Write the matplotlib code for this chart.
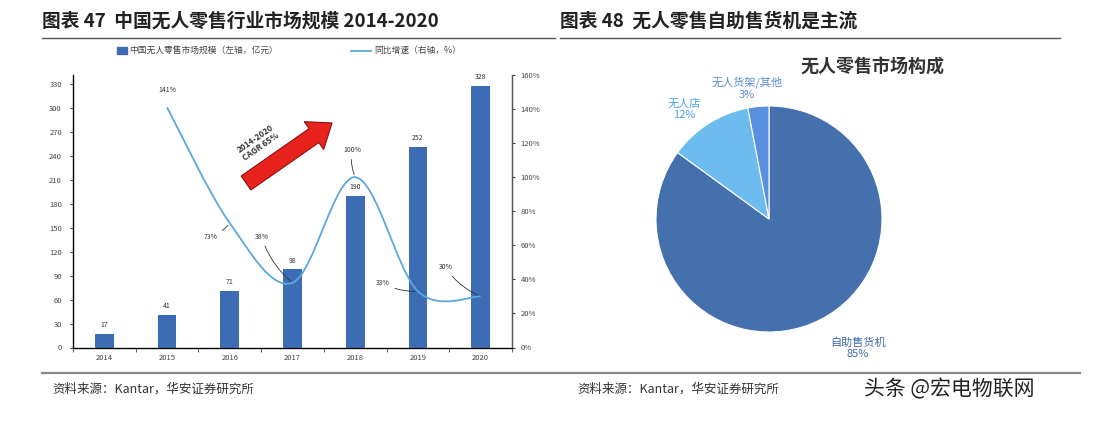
import numpy as np
import matplotlib
matplotlib.use("Agg")
import matplotlib.pyplot as plt
from matplotlib.path import Path
from matplotlib.patches import PathPatch, FancyArrow
from matplotlib.transforms import IdentityTransform
from matplotlib.lines import Line2D

plt.rcParams['font.family'] = ['Noto Sans CJK SC', 'DejaVu Sans']

# ---- data ----
years = ['2014', '2015', '2016', '2017', '2018', '2019', '2020']
market_size = [17, 41, 71, 98, 190, 252, 328]          # 亿元
growth_years = years[1:]
growth = [141, 73, 38, 100, 33, 30]                      # %
size_ticks = list(range(0, 331, 30))
growth_ticks = list(range(0, 161, 20))

pie_labels = ['自助售货机', '无人店', '无人货架/其他']
pie_values = [85, 12, 3]
pie_colors = ['#4470ad', '#6cbcf0', '#5a8ede']

W, H = 1106, 424
fig = plt.figure(figsize=(W / 100, H / 100), dpi=100)
fig.patch.set_facecolor('white')


def fx(x):
    return x / W


def fy(y):
    return 1 - y / H


# ---- headers / footers ----
fig.text(fx(42), fy(21), '图表 47  中国无人零售行业市场规模 2014-2020', fontsize=13.5,
         fontweight='bold', color='#222222', va='center')
fig.text(fx(560), fy(21), '图表 48  无人零售自助售货机是主流', fontsize=13.5,
         fontweight='bold', color='#222222', va='center')
fig.add_artist(Line2D([fx(42), fx(555)], [fy(38), fy(38)], color='#555555', lw=1.0))
fig.add_artist(Line2D([fx(560), fx(1060)], [fy(38), fy(38)], color='#555555', lw=1.0))
fig.add_artist(Line2D([fx(42), fx(1080)], [fy(373), fy(373)], color='#888888', lw=1.6))
fig.text(fx(52), fy(389), '资料来源：Kantar，华安证券研究所', fontsize=9, color='#333333', va='center')
fig.text(fx(577), fy(389), '资料来源：Kantar，华安证券研究所', fontsize=9, color='#333333', va='center')
fig.text(fx(864), fy(389), '头条 @宏电物联网', fontsize=15, color='#222222', va='center')

# ---- left chart: bars + growth line ----
ax = fig.add_axes([fx(73), fy(347.5), fx(512) - fx(73), fy(75) - fy(347.5)])
x = np.arange(len(years))
bar_color = '#3b6cb4'
ax.bar(x, market_size, width=0.3, color=bar_color, zorder=2)
ax.set_xlim(-0.5, len(years) - 0.5)
ax.set_ylim(0, 330 * 272.5 / 263.2)
ax.set_yticks(size_ticks)
ax.set_yticklabels([str(t) for t in size_ticks])
ax.set_xticks(x)
ax.set_xticklabels(years)
ax.set_xticks(np.arange(-0.5, len(years), 1), minor=True)
ax.tick_params(axis='x', which='major', length=0, labelsize=5.5, colors='#444444', pad=5)
ax.tick_params(axis='x', which='minor', length=3, color='#444444')
ax.tick_params(axis='y', length=2, labelsize=5.5, colors='#444444', pad=6)
ax.spines['top'].set_visible(False)
for s in ['left', 'bottom', 'right']:
    ax.spines[s].set_color('#555566')
    ax.spines[s].set_linewidth(1.0)
for xi, v in zip(x, market_size):
    ax.text(xi, v + 6, str(v), ha='center', va='bottom', fontsize=5, color='#333333')

ax2 = ax.twinx()
ax2.set_ylim(0, 160)
ax2.set_yticks(growth_ticks)
ax2.set_yticklabels([f'{t}%' for t in growth_ticks])
ax2.tick_params(axis='y', length=2, labelsize=5.5, colors='#444444', pad=4)
ax2.spines['top'].set_visible(False)
ax2.spines['right'].set_color('#555566')

# smoothed growth line (cubic Bezier through the data points)
gx = np.arange(1, len(years))
pts = np.column_stack([gx, growth]).astype(float)
verts = [tuple(pts[0])]
codes = [Path.MOVETO]
n = len(pts)
for i in range(n - 1):
    p0 = pts[i - 1] if i > 0 else pts[i]
    p1, p2 = pts[i], pts[i + 1]
    p3 = pts[i + 2] if i + 2 < n else pts[i + 1]
    c1 = p1 + (p2 - p0) / 6
    c2 = p2 - (p3 - p1) / 6
    verts += [tuple(c1), tuple(c2), tuple(p2)]
    codes += [Path.CURVE4] * 3
ax2.add_patch(PathPatch(Path(verts, codes), facecolor='none', edgecolor='#5aa8df',
                        lw=1.3, zorder=3))

# growth labels with leader lines
label_offsets = [(0, 14), (-0.2, -8), (-0.38, 27), (-0.05, 16), (-0.45, 5), (-0.45, 17)]
for xi, v, (dx, dy) in zip(gx, growth, label_offsets):
    if xi == 1:
        ax2.text(xi, v + 8, f'{v}%', ha='center', va='bottom', fontsize=5, color='#333333')
        continue
    ax2.annotate(f'{v}%', xy=(xi, v), xytext=(xi + dx, v + dy), fontsize=5,
                 color='#333333', ha='right' if dx < -0.1 else 'center', va='center',
                 arrowprops=dict(arrowstyle='-', color='#333333', lw=0.6,
                                 connectionstyle='arc3,rad=0.15'))

# CAGR arrow
fig.add_artist(FancyArrow(246, H - 183, 86, 60, width=17, head_width=34,
                          head_length=22, length_includes_head=True,
                          facecolor='#e8231e', edgecolor='#8a1010', lw=0.8,
                          transform=IdentityTransform()))
fig.text(fx(258), fy(143), '2014-2020\nCAGR 65%', fontsize=6, fontweight='bold',
         color='#333333', rotation=35, ha='center', va='center', linespacing=1.2)

# legend
fig.add_artist(plt.Rectangle((fx(117), fy(54)), fx(10), fy(47) - fy(54), color=bar_color))
fig.text(fx(129), fy(50.5), '中国无人零售市场规模（左轴，亿元）', fontsize=6.3,
         color='#444444', va='center')
fig.add_artist(Line2D([fx(351), fx(371)], [fy(50.5), fy(50.5)], color='#5aa8df', lw=1.3))
fig.text(fx(374), fy(50.5), '同比增速（右轴，%）', fontsize=6.3, color='#444444', va='center')

# ---- right chart: pie ----
r = 113
cx, cy = 769, 219
pax = fig.add_axes([fx(cx - r), fy(cy + r), fx(2 * r), fy(cy - r) - fy(cy + r)])
pax.pie(pie_values, colors=pie_colors, startangle=90, counterclock=False,
        wedgeprops=dict(edgecolor='white', linewidth=0.8))
pax.set_xlim(-1, 1)
pax.set_ylim(-1, 1)
pax.set_aspect('auto')
pax.axis('off')

fig.text(fx(872), fy(67), '无人零售市场构成', fontsize=13, fontweight='bold',
         color='#333333', ha='center', va='center')
fig.text(fx(747), fy(88), '无人货架/其他\n3%', fontsize=8, color='#5a8ad0',
         ha='center', va='center', linespacing=1.2)
fig.text(fx(684), fy(109), '无人店\n12%', fontsize=8, color='#4aa2e2',
         ha='center', va='center', linespacing=1.2)
fig.text(fx(858), fy(348), '自助售货机\n85%', fontsize=8, color='#3e6aa8',
         ha='center', va='center', linespacing=1.2)

fig.savefig('out.png', dpi=100)
